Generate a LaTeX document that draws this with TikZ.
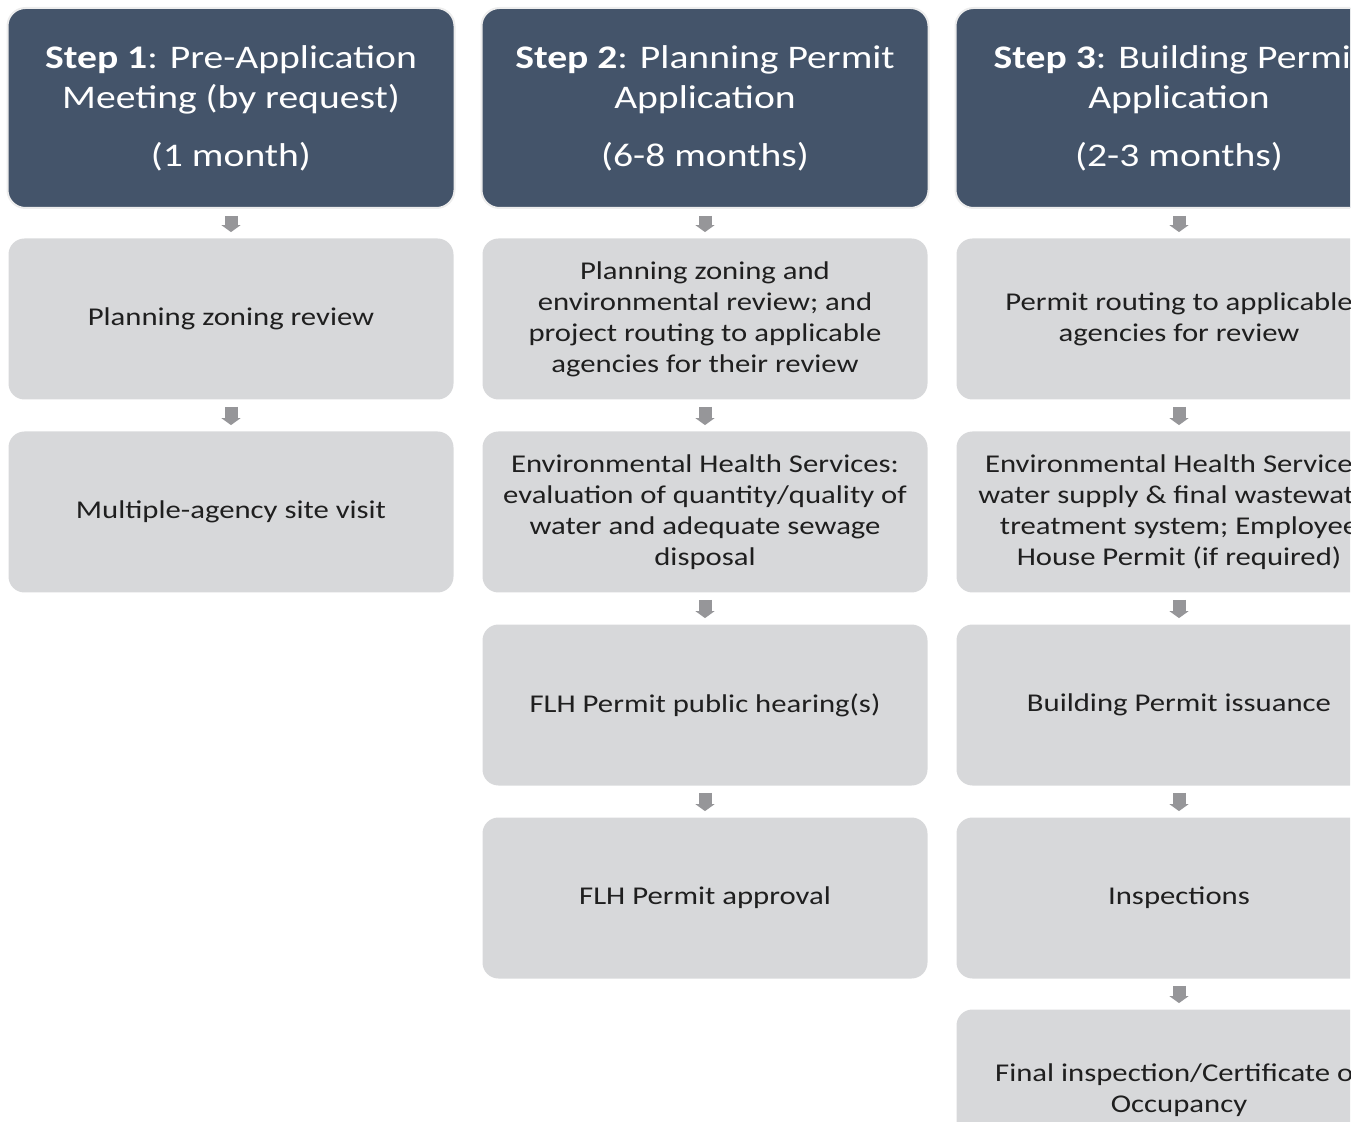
\documentclass[tikz,border=0pt]{standalone}
\usepackage{fontspec}
\setmainfont{Carlito}[FakeStretch=1.2]
\usetikzlibrary{arrows.meta}

\definecolor{stepblue}{RGB}{68,84,106}
\definecolor{taskgray}{RGB}{215,216,218}
\definecolor{flowgray}{RGB}{150,150,153}

\tikzset{
  stephead/.style={rectangle, rounded corners=9pt, fill=stepblue, draw=black!7,
    line width=1pt, text=white, minimum width=223.5pt, minimum height=100pt,
    align=center, font=\fontsize{16.5}{20}\selectfont},
  task/.style={rectangle, rounded corners=8pt, fill=taskgray, text=black!88,
    minimum width=222.5pt, minimum height=80.5pt,
    align=center, font=\fontsize{12.8}{15.5}\selectfont},
  flow/.style={-{Triangle[width=9.5pt,length=3.5pt]}, line width=6.5pt,
    flowgray, shorten <=3.5pt, shorten >=3pt}
}

\begin{document}
\begin{tikzpicture}[x=0.5pt, y=-0.5pt]

  \useasboundingbox (0,0) rectangle (1365,1122);
  \clip (0,0) rectangle (1350,1122);

  % step headers
  \node[stephead] (s1) at (231,108) {\textbf{Step 1}: Pre-Application\\Meeting (by request)\\[9pt](1 month)};
  \node[stephead] (s2) at (705,108) {\textbf{Step 2}: Planning Permit\\Application\\[9pt](6-8 months)};
  \node[stephead] (s3) at (1179,108) {\textbf{Step 3}: Building Permit\\Application\\[9pt](2-3 months)};

  % step 1
  \node[task] (a1) at (231,319) {Planning zoning review};
  \node[task] (b1) at (231,512) {Multiple-agency site visit};

  % step 2
  \node[task] (a2) at (705,319) {Planning zoning and\\environmental review; and\\project routing to applicable\\agencies for their review};
  \node[task] (b2) at (705,512) {Environmental Health Services:\\evaluation of quantity/quality of\\water and adequate sewage\\disposal};
  \node[task] (c2) at (705,705) {FLH Permit public hearing(s)};
  \node[task] (d2) at (705,898) {FLH Permit approval};

  % step 3
  \node[task] (a3) at (1179,319) {Permit routing to applicable\\agencies for review};
  \node[task] (b3) at (1179,512) {Environmental Health Services:\\water supply \& final wastewater\\treatment system; Employee\\House Permit (if required)};
  \node[task] (c3) at (1179,705) {Building Permit issuance};
  \node[task] (d3) at (1179,898) {Inspections};
  \node[task] (e3) at (1179,1090) {Final inspection/Certificate of\\Occupancy};

  \foreach \from/\to in {s1/a1, a1/b1, s2/a2, a2/b2, b2/c2, c2/d2,
                         s3/a3, a3/b3, b3/c3, c3/d3, d3/e3} {
    \draw[flow] (\from) -- (\to);
  }

\end{tikzpicture}
\end{document}
